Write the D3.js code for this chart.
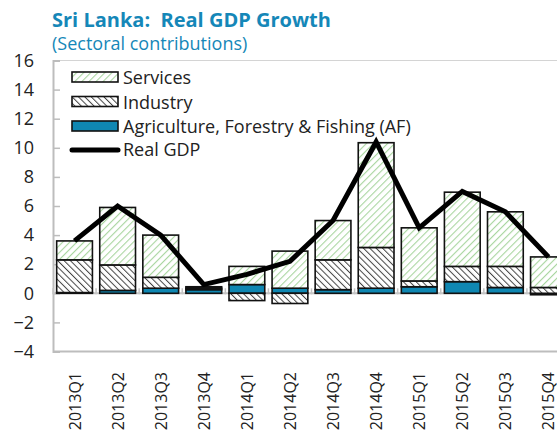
<!DOCTYPE html>
<html>
<head>
<meta charset="utf-8">
<script src="https://cdn.jsdelivr.net/npm/d3@7"></script>
<style>
  body { margin: 0; background: #fff; }
  svg text { font-family: "Open Sans", "Noto Sans", sans-serif; }
</style>
</head>
<body>
<svg id="chart" width="557" height="432"></svg>
<script>
// quarters on the x axis
var quarters = ["2013Q1","2013Q2","2013Q3","2013Q4","2014Q1","2014Q2","2014Q3","2014Q4","2015Q1","2015Q2","2015Q3","2015Q4"];

// sectoral contributions (percentage points)
var agriculture = [0.05, 0.2, 0.35, 0.25, 0.6, 0.35, 0.25, 0.35, 0.45, 0.8, 0.4, -0.1];
var industry    = [2.25, 1.75, 0.75, 0.1, -0.5, -0.7, 2.05, 2.8, 0.4, 1.05, 1.45, 0.4];
var services    = [1.3, 3.95, 2.9, 0.1, 1.25, 2.55, 2.7, 7.2, 3.65, 5.1, 3.75, 2.1];

// real GDP growth, percent
var realGdp = [3.6, 6.0, 4.0, 0.6, 1.3, 2.2, 5.0, 10.4, 4.5, 7.0, 5.6, 2.5];

var yTicks = [16, 14, 12, 10, 8, 6, 4, 2, 0, -2, -4];

var seriesKeys = ["af", "ind", "serv"];
var seriesNames = {serv: "Services", ind: "Industry", af: "Agriculture, Forestry & Fishing (AF)"};

var rows = [];
for (var i = 0; i < quarters.length; i++) {
    rows.push({q: quarters[i], af: agriculture[i], ind: industry[i], serv: services[i], gdp: realGdp[i]});
}

var blue = "#0f87b2";
var svg = d3.select("#chart");

// patterns for the hatched fills
var defs = svg.append("defs");
var pServ = defs.append("pattern").attr("id", "hatchServ")
    .attr("patternUnits", "userSpaceOnUse").attr("width", 5).attr("height", 5)
    .attr("patternTransform", "rotate(45)");
pServ.append("rect").attr("width", 5).attr("height", 5).attr("fill", "#fff");
pServ.append("line").attr("x1", 0).attr("y1", 0).attr("x2", 0).attr("y2", 5)
    .attr("stroke", "#a9d6a0").attr("stroke-width", 2.2);

var pInd = defs.append("pattern").attr("id", "hatchInd")
    .attr("patternUnits", "userSpaceOnUse").attr("width", 4.5).attr("height", 4.5)
    .attr("patternTransform", "rotate(-45)");
pInd.append("rect").attr("width", 4.5).attr("height", 4.5).attr("fill", "#fff");
pInd.append("line").attr("x1", 0).attr("y1", 0).attr("x2", 0).attr("y2", 4.5)
    .attr("stroke", "#444").attr("stroke-width", 2);

var fills = {serv: "url(#hatchServ)", ind: "url(#hatchInd)", af: blue};

// plot area (right side runs past the window, as in the source)
var pLeft = 53, pRight = 570, pTop = 60.5, pBottom = 351.5;

var x = d3.scaleBand().domain(quarters).range([pLeft, pRight]).paddingInner(0.17).paddingOuter(0.085);
var y = d3.scaleLinear().domain([-4, 16]).range([pBottom, pTop]);

// titles
svg.append("text").attr("x", 52).attr("y", 27)
    .attr("fill", "#1587b8").attr("font-weight", "bold").attr("font-size", 20)
    .style("white-space", "pre")
    .text("Sri Lanka:  Real GDP Growth");
svg.append("text").attr("x", 52).attr("y", 50)
    .attr("fill", "#1587b8").attr("font-size", 18)
    .text("(Sectoral contributions)");

// plot frame
svg.append("line").attr("x1", pLeft).attr("x2", 557).attr("y1", pTop).attr("y2", pTop)
    .attr("stroke", "#d4d4d4").attr("stroke-width", 1);
svg.append("line").attr("x1", pLeft).attr("x2", 557).attr("y1", pBottom).attr("y2", pBottom)
    .attr("stroke", "#bdbdbd").attr("stroke-width", 2);

// y axis with inward ticks
var yAxis = d3.axisLeft(y).tickValues(yTicks).tickSize(-7).tickPadding(19);
var gy = svg.append("g").attr("transform", "translate(" + pLeft + ",0)").call(yAxis);
gy.select(".domain").attr("stroke", "#bdbdbd").attr("stroke-width", 2);
gy.selectAll(".tick line").attr("stroke", "#bdbdbd").attr("stroke-width", 1.5);
gy.selectAll(".tick text").attr("font-size", 18).attr("fill", "#222")
    .style("font-family", "'Open Sans', sans-serif");

// zero line with category separators
svg.append("line").attr("x1", pLeft).attr("x2", 557).attr("y1", y(0)).attr("y2", y(0))
    .attr("stroke", "#c4c4c4").attr("stroke-width", 2);
var step = x.step();
svg.append("g").selectAll("line")
    .data(quarters)
    .enter().append("line")
    .attr("x1", function(d) { return x(d) - x.paddingInner() * step / 2; })
    .attr("x2", function(d) { return x(d) - x.paddingInner() * step / 2; })
    .attr("y1", y(0) - 5).attr("y2", y(0) + 1)
    .attr("stroke", "#c4c4c4").attr("stroke-width", 1.5);

// stacked bars
var stack = d3.stack().keys(seriesKeys).offset(d3.stackOffsetDiverging);
var layers = stack(rows);

svg.append("g").selectAll("g")
    .data(layers)
    .enter().append("g")
    .attr("fill", function(d) { return fills[d.key]; })
    .selectAll("rect")
    .data(function(d) { return d; })
    .enter().append("rect")
    .attr("x", function(d) { return x(d.data.q); })
    .attr("width", x.bandwidth())
    .attr("y", function(d) { return y(Math.max(d[0], d[1])); })
    .attr("height", function(d) { return Math.abs(y(d[0]) - y(d[1])); })
    .attr("stroke", "#111").attr("stroke-width", 1.6);

// real GDP line
var line = d3.line()
    .x(function(d) { return x(d.q) + x.bandwidth() / 2; })
    .y(function(d) { return y(d.gdp); });

svg.append("path").datum(rows)
    .attr("d", line)
    .attr("fill", "none").attr("stroke", "#000")
    .attr("stroke-width", 5).attr("stroke-linejoin", "miter");

// x labels, rotated
svg.append("g").selectAll("text")
    .data(quarters)
    .enter().append("text")
    .attr("transform", function(d) { return "translate(" + (x(d) + x.bandwidth() / 2 + 6) + ",372) rotate(-90)"; })
    .attr("text-anchor", "end").attr("font-size", 16).attr("fill", "#222")
    .text(function(d) { return d; });

// legend
var legendItems = ["serv", "ind", "af"];
var lg = svg.append("g");
legendItems.forEach(function(k, i) {
    var yy = 72 + i * 24.5;
    lg.append("rect").attr("x", 72).attr("y", yy).attr("width", 46).attr("height", 10)
        .attr("fill", fills[k]).attr("stroke", "#111").attr("stroke-width", 1.6);
    lg.append("text").attr("x", 123).attr("y", yy + 12).attr("font-size", 18).attr("fill", "#222")
        .text(seriesNames[k]);
});
lg.append("line").attr("x1", 72).attr("x2", 118).attr("y1", 150).attr("y2", 150)
    .attr("stroke", "#000").attr("stroke-width", 5).attr("stroke-linecap", "round");
lg.append("text").attr("x", 123).attr("y", 156).attr("font-size", 18).attr("fill", "#222")
    .text("Real GDP");
</script>
</body>
</html>
